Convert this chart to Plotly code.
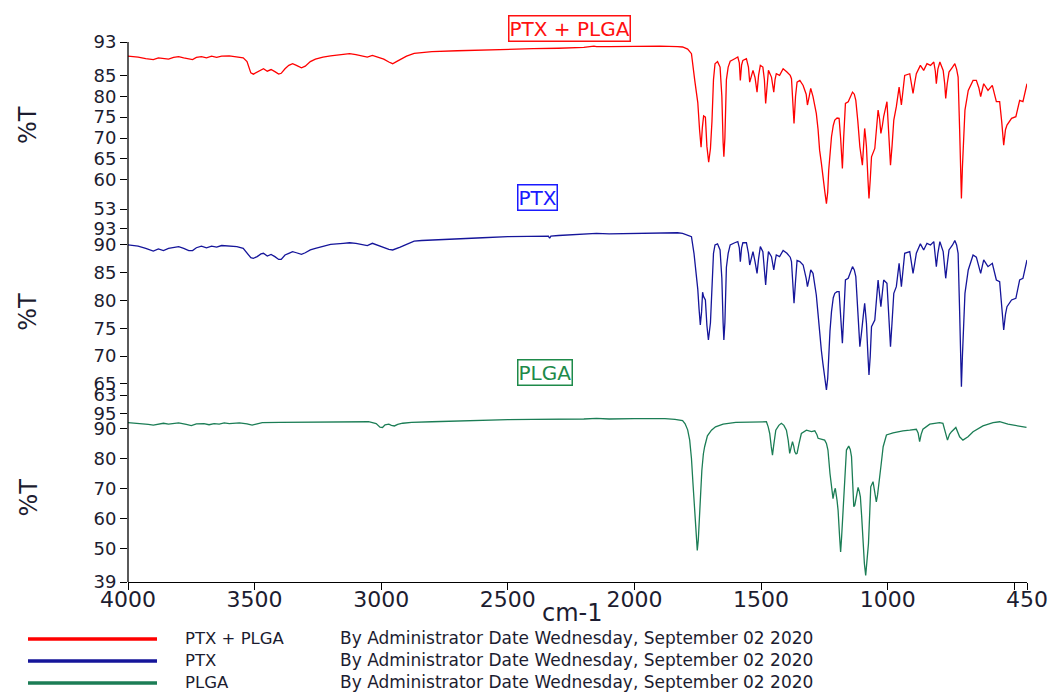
import plotly.graph_objects as go

# ---- FTIR spectra (wavenumber in cm-1, transmittance in %T) ----
wn_ptx_plga = [4000, 3960, 3930, 3900, 3880, 3860, 3840, 3820, 3800, 3780, 3760, 3745, 3730, 3710, 3690, 3670, 3650, 3630, 3600, 3570, 3545, 3530, 3515, 3505, 3490, 3475, 3465, 3450, 3435, 3420, 3405, 3395, 3380, 3365, 3350, 3335, 3315, 3300, 3280, 3260, 3230, 3200, 3150, 3125, 3100, 3075, 3055, 3035, 3010, 2990, 2970, 2955, 2940, 2925, 2900, 2870, 2840, 2800, 2700, 2600, 2500, 2400, 2300, 2200, 2160, 2150, 2100, 2000, 1900, 1830, 1810, 1790, 1775, 1762, 1750, 1743, 1737, 1732, 1727, 1720, 1714, 1707, 1700, 1694, 1688, 1682, 1672, 1662, 1655, 1650, 1647, 1643, 1637, 1630, 1622, 1604, 1592, 1586, 1582, 1577, 1572, 1558, 1550, 1545, 1538, 1532, 1524, 1516, 1510, 1503, 1493, 1487, 1482, 1476, 1471, 1459, 1450, 1445, 1440, 1427, 1413, 1398, 1385, 1380, 1375, 1370, 1364, 1358, 1347, 1334, 1322, 1317, 1310, 1304, 1295, 1282, 1275, 1269, 1262, 1256, 1248, 1242, 1237, 1233, 1228, 1222, 1215, 1209, 1200, 1192, 1186, 1179, 1174, 1167, 1156, 1139, 1132, 1126, 1118, 1110, 1100, 1096, 1091, 1087, 1084, 1078, 1074, 1069, 1064, 1051, 1045, 1038, 1032, 1027, 1021, 1016, 1003, 996, 989, 983, 976, 966, 955, 946, 940, 933, 913, 905, 900, 894, 887, 871, 858, 845, 831, 818, 812, 808, 802, 794, 781, 775, 771, 765, 758, 744, 735, 728, 722, 716, 711, 709, 705, 695, 682, 663, 650, 640, 633, 621, 604, 587, 571, 558, 550, 542, 535, 529, 511, 494, 479, 466, 450]
t_ptx_plga = [89.6, 89.4, 89.0, 88.8, 89.2, 89.1, 88.9, 89.3, 89.5, 89.2, 88.9, 88.8, 89.3, 89.5, 89.2, 89.6, 89.3, 89.6, 89.7, 89.5, 89.2, 88.3, 85.6, 85.3, 85.8, 86.4, 86.6, 86.0, 86.4, 85.9, 85.3, 85.5, 86.6, 87.4, 87.8, 87.4, 86.8, 87.2, 88.3, 88.9, 89.4, 89.7, 90.1, 90.2, 90.0, 89.6, 89.4, 89.8, 89.4, 88.9, 88.2, 87.8, 88.3, 88.8, 89.6, 90.3, 90.5, 90.7, 90.9, 91.1, 91.3, 91.4, 91.5, 91.7, 92.0, 91.9, 91.9, 92.0, 92.0, 91.9, 91.8, 91.3, 90.2, 83.8, 78.5, 72.0, 67.8, 72.5, 75.3, 75.0, 68.0, 64.2, 67.5, 74.0, 84.0, 87.8, 88.3, 87.0, 80.0, 69.0, 65.5, 70.0, 84.0, 87.0, 88.4, 89.0, 89.4, 88.0, 83.8, 87.5, 88.6, 89.0, 87.0, 83.4, 85.0, 86.2, 84.5, 81.0, 85.0, 87.4, 87.0, 84.0, 78.3, 83.0, 86.2, 84.6, 81.0, 84.0, 85.4, 85.0, 86.6, 85.8, 85.0, 84.2, 80.0, 73.5, 80.0, 83.4, 83.8, 82.6, 80.5, 77.9, 80.0, 81.9, 79.9, 75.9, 72.0, 67.1, 64.0, 61.5, 57.0, 54.3, 57.0, 62.3, 66.0, 70.3, 73.0, 74.3, 74.8, 74.7, 70.0, 62.7, 70.0, 78.3, 78.7, 81.0, 80.5, 79.0, 74.0, 67.9, 63.5, 68.0, 72.3, 70.0, 67.9, 60.0, 55.5, 60.0, 65.5, 67.5, 72.0, 76.7, 74.5, 71.1, 73.0, 75.1, 78.7, 72.0, 63.5, 68.0, 74.3, 77.5, 82.2, 77.9, 81.0, 85.0, 85.4, 83.0, 80.7, 83.0, 85.4, 87.4, 86.2, 87.8, 87.4, 88.2, 86.0, 83.0, 86.5, 88.2, 86.2, 83.0, 79.5, 83.0, 85.8, 87.0, 87.8, 86.5, 84.6, 72.0, 58.0, 55.5, 63.0, 76.7, 81.4, 83.8, 83.8, 82.0, 79.9, 83.0, 81.4, 82.6, 78.7, 78.7, 74.0, 68.3, 72.0, 73.1, 74.7, 75.1, 79.0, 78.7, 83.0]

wn_ptx = [4000, 3960, 3930, 3900, 3880, 3860, 3840, 3820, 3800, 3780, 3760, 3745, 3730, 3710, 3690, 3670, 3650, 3630, 3600, 3570, 3545, 3530, 3515, 3505, 3490, 3475, 3465, 3450, 3435, 3420, 3405, 3395, 3380, 3365, 3350, 3335, 3315, 3300, 3280, 3260, 3230, 3200, 3150, 3125, 3100, 3075, 3055, 3035, 3010, 2990, 2970, 2955, 2940, 2925, 2900, 2870, 2840, 2800, 2700, 2600, 2500, 2400, 2340, 2335, 2330, 2300, 2200, 2150, 2100, 2000, 1900, 1830, 1810, 1790, 1775, 1765, 1757, 1750, 1745, 1740, 1735, 1731, 1727, 1720, 1714, 1708, 1700, 1694, 1688, 1682, 1672, 1662, 1655, 1650, 1647, 1643, 1637, 1630, 1622, 1604, 1592, 1586, 1582, 1577, 1572, 1558, 1550, 1545, 1538, 1532, 1524, 1516, 1510, 1503, 1493, 1487, 1482, 1476, 1471, 1459, 1450, 1445, 1440, 1427, 1413, 1398, 1385, 1380, 1375, 1370, 1364, 1358, 1347, 1334, 1322, 1317, 1310, 1304, 1295, 1282, 1275, 1269, 1262, 1256, 1248, 1242, 1237, 1233, 1228, 1222, 1215, 1209, 1200, 1192, 1186, 1179, 1174, 1167, 1156, 1139, 1132, 1126, 1118, 1110, 1104, 1100, 1096, 1091, 1087, 1084, 1078, 1074, 1069, 1064, 1051, 1045, 1038, 1032, 1027, 1021, 1016, 1003, 996, 989, 983, 976, 966, 955, 946, 940, 933, 913, 905, 900, 894, 887, 871, 858, 845, 831, 818, 812, 808, 802, 794, 781, 775, 771, 765, 758, 744, 735, 728, 722, 716, 711, 709, 705, 695, 682, 663, 650, 640, 633, 621, 604, 587, 571, 558, 550, 542, 535, 529, 511, 494, 479, 466, 450]
t_ptx = [90.0, 89.8, 89.4, 88.9, 89.3, 89.0, 89.4, 89.6, 89.7, 89.4, 89.0, 89.0, 89.5, 89.8, 89.5, 89.8, 89.6, 89.9, 89.8, 89.7, 89.4, 88.6, 87.7, 87.6, 87.9, 88.4, 88.5, 88.0, 88.3, 87.9, 87.4, 87.4, 88.2, 88.5, 88.8, 88.6, 88.3, 88.6, 89.1, 89.4, 89.8, 90.1, 90.3, 90.4, 90.3, 90.0, 89.9, 90.3, 89.9, 89.5, 89.2, 89.1, 89.3, 89.6, 90.1, 90.7, 90.8, 90.9, 91.1, 91.3, 91.5, 91.6, 91.6, 91.2, 91.6, 91.7, 91.9, 92.1, 92.0, 92.1, 92.2, 92.2, 92.1, 91.8, 91.5, 88.5, 85.0, 82.0, 78.5, 75.6, 78.0, 81.5, 80.7, 80.1, 75.5, 72.9, 76.0, 82.0, 88.5, 90.0, 90.2, 89.1, 84.0, 76.0, 72.9, 76.0, 86.0, 88.5, 90.0, 90.4, 90.6, 89.5, 87.0, 89.5, 90.4, 90.4, 88.5, 86.4, 87.8, 88.8, 87.0, 84.9, 87.5, 89.7, 88.8, 86.0, 82.8, 86.5, 88.8, 87.9, 85.5, 87.0, 88.2, 87.9, 89.0, 88.5, 87.8, 87.0, 83.0, 79.5, 83.5, 87.2, 87.0, 86.4, 84.0, 82.5, 84.0, 85.5, 84.9, 81.0, 77.5, 73.8, 71.0, 68.7, 66.0, 63.9, 66.0, 70.5, 74.5, 78.0, 80.5, 81.3, 81.6, 81.6, 78.0, 72.3, 77.0, 83.7, 84.0, 86.1, 85.5, 84.3, 78.0, 71.7, 74.0, 76.5, 77.5, 79.5, 78.0, 75.9, 70.0, 66.6, 70.0, 75.3, 76.5, 80.0, 83.7, 81.0, 78.9, 81.5, 83.7, 83.1, 78.0, 71.7, 76.0, 81.3, 82.5, 86.7, 82.5, 85.5, 88.5, 88.8, 86.5, 84.9, 86.5, 88.5, 90.2, 89.1, 90.3, 90.0, 90.6, 88.5, 86.1, 88.5, 90.6, 88.8, 86.5, 84.0, 86.5, 89.1, 90.0, 90.8, 90.0, 88.5, 78.0, 67.0, 64.5, 70.0, 81.3, 85.5, 88.2, 87.8, 86.0, 84.9, 87.3, 86.1, 86.7, 83.7, 83.4, 79.0, 74.7, 77.5, 78.9, 80.1, 80.4, 83.7, 84.0, 87.3]

wn_plga = [4000, 3960, 3920, 3900, 3880, 3860, 3840, 3820, 3800, 3770, 3750, 3730, 3700, 3680, 3660, 3640, 3620, 3600, 3580, 3560, 3530, 3510, 3490, 3470, 3400, 3300, 3200, 3100, 3050, 3020, 3005, 2995, 2985, 2970, 2960, 2948, 2935, 2915, 2880, 2800, 2700, 2600, 2500, 2400, 2330, 2300, 2200, 2150, 2100, 2000, 1941, 1880, 1840, 1810, 1800, 1790, 1782, 1775, 1769, 1762, 1756, 1752, 1748, 1744, 1740, 1734, 1728, 1723, 1712, 1696, 1680, 1650, 1600, 1545, 1479, 1472, 1466, 1460, 1455, 1450, 1442, 1430, 1420, 1410, 1400, 1393, 1387, 1382, 1376, 1371, 1367, 1362, 1358, 1350, 1341, 1321, 1301, 1288, 1280, 1275, 1262, 1249, 1242, 1236, 1228, 1222, 1216, 1211, 1207, 1200, 1196, 1190, 1186, 1182, 1176, 1170, 1163, 1154, 1148, 1143, 1138, 1134, 1130, 1126, 1117, 1112, 1108, 1103, 1098, 1092, 1087, 1082, 1076, 1071, 1067, 1058, 1050, 1045, 1040, 1034, 1026, 1018, 1005, 979, 940, 913, 887, 880, 874, 868, 861, 834, 795, 782, 775, 764, 756, 748, 731, 716, 703, 683, 663, 624, 584, 558, 525, 492, 452]
t_plga = [91.9, 91.7, 91.3, 91.1, 91.5, 91.7, 91.4, 91.6, 91.8, 91.3, 90.9, 91.5, 91.6, 91.2, 91.6, 91.4, 91.8, 91.6, 91.7, 91.8, 91.5, 91.1, 91.5, 91.9, 92.0, 92.1, 92.2, 92.2, 92.2, 91.6, 90.4, 90.3, 91.2, 91.4, 91.0, 90.8, 91.3, 91.7, 92.0, 92.2, 92.5, 92.7, 92.9, 93.0, 93.0, 93.2, 93.1, 93.3, 93.1, 93.2, 93.3, 93.2, 93.0, 92.6, 91.5, 89.5, 86.1, 80.0, 71.7, 62.0, 54.0, 49.5, 53.0, 60.0, 66.2, 76.0, 81.5, 83.9, 87.5, 89.4, 90.5, 91.4, 92.0, 92.2, 92.2, 90.5, 88.3, 84.0, 81.1, 84.5, 89.4, 91.0, 91.7, 91.0, 89.4, 86.0, 81.7, 83.5, 85.6, 84.0, 82.2, 81.5, 81.7, 85.0, 88.3, 89.4, 88.9, 89.2, 88.0, 86.7, 86.5, 86.1, 85.0, 82.8, 75.0, 69.5, 66.7, 69.0, 70.1, 66.0, 62.8, 54.0, 49.0, 54.0, 62.8, 73.0, 82.8, 84.1, 83.0, 80.6, 72.0, 64.0, 64.5, 66.2, 70.4, 69.0, 67.3, 61.0, 52.9, 45.0, 41.2, 45.0, 51.8, 62.0, 70.6, 72.3, 68.0, 65.6, 68.0, 71.7, 78.0, 83.9, 87.8, 88.5, 89.2, 89.4, 89.7, 88.5, 85.6, 88.0, 89.7, 91.4, 91.9, 91.7, 89.5, 86.1, 88.0, 88.9, 90.3, 87.2, 86.1, 87.2, 88.9, 90.8, 91.9, 92.2, 91.4, 90.8, 90.3]

# ---- axis ticks ----
x_tickvals = [4000, 3500, 3000, 2500, 2000, 1500, 1000, 500, 450]
x_ticktext = ["4000", "3500", "3000", "2500", "2000", "1500", "1000", "", "450"]
y1_ticks = [93, 85, 80, 75, 70, 65, 60, 53]
y2_ticks = [93, 90, 85, 80, 75, 70, 65, 63]
y3_ticks = [95, 90, 80, 70, 60, 50, 39]

names = ["PTX + PLGA", "PTX", "PLGA"]
colors = ["#ff0000", "#15159a", "#1b7d55"]
box_text_colors = ["#ff1010", "#1a1aff", "#1e8a4a"]
stamp = "By Administrator Date Wednesday, September 02 2020"

W, H = 1052, 693
ML, MR, MT, MB = 128, 25, 42, 111
PW, PH = W - ML - MR, H - MT - MB


def px_x(px):
    return (px - ML) / PW


def px_y(py):
    return (H - MB - py) / PH


FONT = "DejaVu Sans"
TXT = "#1c1c30"

fig = go.Figure()
fig.add_trace(go.Scatter(x=wn_ptx_plga, y=t_ptx_plga, mode="lines", xaxis="x", yaxis="y",
                         line=dict(color=colors[0], width=1.3), name=names[0], showlegend=False))
fig.add_trace(go.Scatter(x=wn_ptx, y=t_ptx, mode="lines", xaxis="x", yaxis="y2",
                         line=dict(color=colors[1], width=1.3), name=names[1], showlegend=False))
fig.add_trace(go.Scatter(x=wn_plga, y=t_plga, mode="lines", xaxis="x", yaxis="y3",
                         line=dict(color=colors[2], width=1.3), name=names[2], showlegend=False))

yaxis_common = dict(anchor="x", showgrid=False, zeroline=False, showline=False,
                    automargin=False,
                    ticks="outside", ticklen=7, tickcolor="black", tickwidth=1.3,
                    tickfont=dict(family=FONT, size=18, color=TXT), fixedrange=True)

dom1 = [px_y(209), 1.0]
dom2 = [px_y(395), px_y(228.3)]
dom3 = [0.0, px_y(413.3)]

fig.update_layout(
    width=W, height=H,
    margin=dict(l=ML, r=MR, t=MT, b=MB, autoexpand=False),
    paper_bgcolor="white", plot_bgcolor="white",
    showlegend=False,
    xaxis=dict(anchor="y3", range=[4000, 450], showgrid=False, zeroline=False,
               automargin=False,
               showline=True, linecolor="black", linewidth=1.3, mirror=False,
               ticks="outside", ticklen=7, tickcolor="black", tickwidth=1.3,
               tickvals=x_tickvals, ticktext=x_ticktext, ticklabelstandoff=-10,
               tickfont=dict(family=FONT, size=22, color=TXT)),
    yaxis=dict(domain=dom1, range=[53, 93], tickvals=y1_ticks, **yaxis_common),
    yaxis2=dict(domain=dom2, range=[63, 93], tickvals=y2_ticks, **yaxis_common),
    yaxis3=dict(domain=dom3, range=[39, 95], tickvals=y3_ticks, **yaxis_common),
)

# continuous left axis line spanning all three panels
fig.add_shape(type="line", xref="paper", yref="paper", x0=0, x1=0, y0=0, y1=1,
              line=dict(color="black", width=1.3))

# %T labels
for yc in [125, 311.7, 497.5]:
    fig.add_annotation(text="%T", xref="paper", yref="paper", x=px_x(28), y=px_y(yc),
                       xanchor="center", yanchor="middle", textangle=-90, showarrow=False,
                       font=dict(family=FONT, size=24, color=TXT))

# boxed panel titles
for name, col, (cx, cy) in zip(names, box_text_colors, [(569, 28), (537, 197), (545, 372)]):
    fig.add_annotation(text=name, xref="paper", yref="paper", x=px_x(cx), y=px_y(cy),
                       xanchor="center", yanchor="middle", showarrow=False,
                       font=dict(family=FONT, size=20, color=col),
                       bordercolor=col, borderwidth=1.5, borderpad=0, bgcolor="white")

# x-axis title
fig.add_annotation(text="cm-1", xref="paper", yref="paper", x=px_x(572), y=px_y(613),
                   xanchor="center", yanchor="middle", showarrow=False,
                   font=dict(family=FONT, size=24, color=TXT))

# key below the plot
for name, col, ry in zip(names, colors, [639, 661, 683]):
    fig.add_shape(type="line", xref="paper", yref="paper", x0=px_x(28), x1=px_x(157),
                  y0=px_y(ry), y1=px_y(ry), line=dict(color=col, width=3.5))
    fig.add_annotation(text=name, xref="paper", yref="paper", x=px_x(183), y=px_y(ry - 1),
                       xanchor="left", yanchor="middle", showarrow=False,
                       font=dict(family=FONT, size=16.5, color=TXT))
    fig.add_annotation(text=stamp, xref="paper", yref="paper", x=px_x(338), y=px_y(ry - 1),
                       xanchor="left", yanchor="middle", showarrow=False,
                       font=dict(family=FONT, size=17, color=TXT))

fig.write_html("out.html")
